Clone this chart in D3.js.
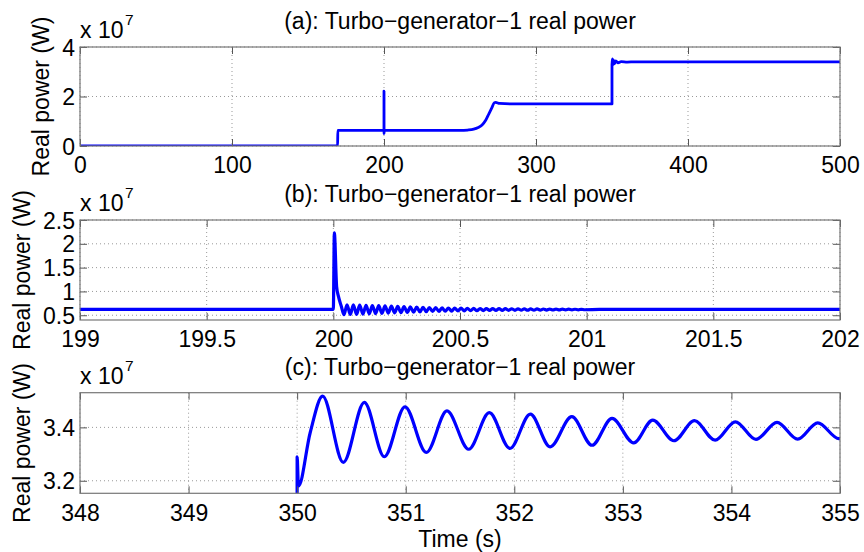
<!DOCTYPE html>
<html><head><meta charset="utf-8">
<script src="https://cdn.jsdelivr.net/npm/d3@7/dist/d3.min.js"></script>
<style>
body{margin:0;background:#fff}
text{font-family:"Liberation Sans",Arial,Helvetica,sans-serif;fill:#000}
</style>
</head><body>
<svg id="chart" width="864" height="552"></svg>
<script>
// ---- data (power in units of 10^7 W, time in s) ----
const aTime  = [0, 169.5, 169.6, 199.99, 200.0, 200.04, 200.1, 250, 255, 259, 262, 264.5, 267, 269, 271, 272.5, 273.5, 276, 285, 349.99, 350.0, 350.25, 350.45, 351, 351.6, 352.5, 354, 356, 360, 365, 500];
const aPower = [0, 0, 0.63, 0.63, 2.22, 0.5, 0.63, 0.63, 0.645, 0.68, 0.75, 0.85, 1.05, 1.3, 1.55, 1.74, 1.76, 1.72, 1.7, 1.7, 3.29, 3.52, 3.27, 3.47, 3.32, 3.44, 3.36, 3.41, 3.39, 3.4, 3.4];
const aXTicks = [0, 100, 200, 300, 400, 500];
const aYTicks = [0, 2, 4];
const aYLim = [0, 4];

const bTime = [199, 200.0, 200.004, 200.013, 200.020, 200.032, 200.042,
  200.054, 200.067, 200.079, 200.092, 200.104, 200.117, 200.129, 200.142, 200.154, 200.167,
  200.179, 200.192, 200.204, 200.217, 200.229, 200.242, 200.254, 200.267, 200.279, 200.292,
  200.304, 200.317, 200.329, 200.342, 200.354, 200.367, 200.379, 200.392, 200.404, 200.417,
  200.429, 200.442, 200.454, 200.467, 200.479, 200.492, 200.504, 200.517, 200.529, 200.542,
  200.554, 200.567, 200.579, 200.592, 200.604, 200.617, 200.629, 200.642, 200.654, 200.667,
  200.679, 200.692, 200.704, 200.717, 200.729, 200.742, 200.754, 200.767, 200.779, 200.792,
  200.804, 200.817, 200.829, 200.842, 200.854, 200.867, 200.879, 200.892, 200.904, 200.917,
  200.929, 200.942, 200.954, 200.967, 200.979, 200.992, 201.05, 201.5, 202];
const bPower = [0.625, 0.625, 2.23, 1.10, 0.90, 0.68, 0.51,
  0.72, 0.515, 0.72, 0.52, 0.715, 0.525, 0.71, 0.53, 0.705, 0.535,
  0.70, 0.54, 0.695, 0.545, 0.69, 0.55, 0.685, 0.555, 0.68, 0.56,
  0.675, 0.565, 0.67, 0.57, 0.666, 0.574, 0.662, 0.578, 0.658, 0.582,
  0.655, 0.585, 0.652, 0.588, 0.65, 0.59, 0.648, 0.592, 0.646, 0.594,
  0.644, 0.596, 0.642, 0.598, 0.64, 0.60, 0.639, 0.601, 0.638, 0.602,
  0.637, 0.603, 0.636, 0.604, 0.635, 0.605, 0.634, 0.606, 0.633, 0.607,
  0.632, 0.608, 0.631, 0.609, 0.630, 0.610, 0.629, 0.611, 0.628, 0.612,
  0.627, 0.613, 0.626, 0.614, 0.625, 0.615, 0.622, 0.625, 0.625];
const bXTicks = [199, 199.5, 200, 200.5, 201, 201.5, 202];
const bYTicks = [0.5, 1, 1.5, 2, 2.5];
const bYLim = [0.4, 2.5];

const cTime = [348, 349.999, 350.0, 350.012, 350.12, 350.235, 350.425, 350.619, 350.803, 350.993, 351.19, 351.38, 351.58, 351.77, 351.96, 352.148, 352.33, 352.53, 352.716, 352.9, 353.1, 353.275, 353.47, 353.66, 353.85, 354.036, 354.226, 354.42, 354.61, 354.795, 354.99, 355];
const cPower = [1.70, 1.70, 3.29, 3.18, 3.38, 3.517, 3.269, 3.494, 3.29, 3.477, 3.306, 3.462, 3.318, 3.455, 3.321, 3.45, 3.327, 3.44, 3.333, 3.434, 3.342, 3.427, 3.35, 3.425, 3.352, 3.421, 3.355, 3.419, 3.356, 3.417, 3.358, 3.358];
const cXTicks = [348, 349, 350, 351, 352, 353, 354, 355];
const cYTicks = [3.2, 3.4];
const cYLim = [3.153, 3.53];

const titles = ["(a): Turbo\u2212generator\u22121 real power",
                "(b): Turbo\u2212generator\u22121 real power",
                "(c): Turbo\u2212generator\u22121 real power"];
const yLabel = "Real power (W)";
const xLabel = "Time (s)";
const exponent = "7";

// ---- layout ----
const L = 80, R = 840, FS = 23;
const panels = [
  {t:aTime, p:aPower, xt:aXTicks, yt:aYTicks, yl:aYLim, title:titles[0], top:47,  bottom:146,   ylx:49, lw:2.8},
  {t:bTime, p:bPower, xt:bXTicks, yt:bYTicks, yl:bYLim, title:titles[1], top:220, bottom:320,   ylx:30, lw:3.2},
  {t:cTime, p:cPower, xt:cXTicks, yt:cYTicks, yl:cYLim, title:titles[2], top:392.7, bottom:493.3, ylx:30, lw:3.2}
];

const svg = d3.select("#chart");
const fmt = d => String(+d.toFixed(3));

panels.forEach((P, i) => {
  const x = d3.scaleLinear().domain([P.xt[0], P.xt[P.xt.length-1]]).range([L, R]);
  const y = d3.scaleLinear().domain(P.yl).range([P.bottom, P.top]);
  const g = svg.append("g");

  // grid
  g.append("g").selectAll("line").data(P.xt).join("line")
    .attr("x1", d => x(d)).attr("x2", d => x(d)).attr("y1", P.top).attr("y2", P.bottom)
    .attr("stroke", "#999").attr("stroke-dasharray", "1,3").attr("stroke-width", 1);
  g.append("g").selectAll("line").data(P.yt).join("line")
    .attr("x1", L).attr("x2", R).attr("y1", d => y(d)).attr("y2", d => y(d))
    .attr("stroke", "#999").attr("stroke-dasharray", "1,3").attr("stroke-width", 1);

  // data line
  const cid = "clip" + i;
  svg.append("clipPath").attr("id", cid).append("rect")
    .attr("x", L).attr("y", P.top).attr("width", R - L).attr("height", P.bottom - P.top);
  const line = d3.line().x((d, k) => x(P.t[k])).y((d, k) => y(P.p[k])).curve(d3.curveMonotoneX);
  g.append("path").datum(P.p).attr("d", line).attr("clip-path", `url(#${cid})`)
    .attr("fill", "none").attr("stroke", "#0000ff").attr("stroke-width", P.lw)
    .attr("stroke-linejoin", "round");

  // axes with inward ticks
  const tk = 7;
  const axB = g.append("g").attr("transform", `translate(0,${P.bottom})`)
    .call(d3.axisBottom(x).tickValues(P.xt).tickSizeInner(-tk).tickSizeOuter(0).tickFormat(fmt));
  const axT = g.append("g").attr("transform", `translate(0,${P.top})`)
    .call(d3.axisTop(x).tickValues(P.xt).tickSizeInner(-tk).tickSizeOuter(0).tickFormat(""));
  const axL = g.append("g").attr("transform", `translate(${L},0)`)
    .call(d3.axisLeft(y).tickValues(P.yt).tickSizeInner(-tk).tickSizeOuter(0).tickFormat(fmt));
  const axR = g.append("g").attr("transform", `translate(${R},0)`)
    .call(d3.axisRight(y).tickValues(P.yt).tickSizeInner(-tk).tickSizeOuter(0).tickFormat(""));
  [axB, axT, axL, axR].forEach(a => {
    a.select(".domain").remove();
    a.selectAll(".tick line").attr("stroke", "#555");
    a.selectAll("text").attr("font-size", FS).attr("font-family", "Liberation Sans, Arial, sans-serif").attr("fill", "#000");
  });
  axB.selectAll(".tick text").attr("y", 11).attr("dy", "0.71em");
  axL.selectAll(".tick text").attr("x", -5).attr("dy", "0.35em");

  // box
  g.append("rect").attr("x", L).attr("y", P.top).attr("width", R - L).attr("height", P.bottom - P.top)
    .attr("fill", "none").attr("stroke", "#777").attr("stroke-width", 1.2);

  // title
  g.append("text").attr("x", (L + R) / 2).attr("y", P.top - 18).attr("text-anchor", "middle")
    .attr("font-size", FS).text(P.title);

  // exponent
  g.append("text").attr("x", L).attr("y", P.top - 9).attr("font-size", FS).text("x 10");
  g.append("text").attr("x", L + 45).attr("y", P.top - 22).attr("font-size", 15.5).text(exponent);

  // y label
  g.append("text").attr("transform", `translate(${P.ylx},${(P.top + P.bottom) / 2}) rotate(-90)`)
    .attr("text-anchor", "middle").attr("font-size", FS).text(yLabel);
});

svg.append("text").attr("x", 460).attr("y", 547).attr("text-anchor", "middle")
  .attr("font-size", FS).text(xLabel);
</script>
</body></html>
